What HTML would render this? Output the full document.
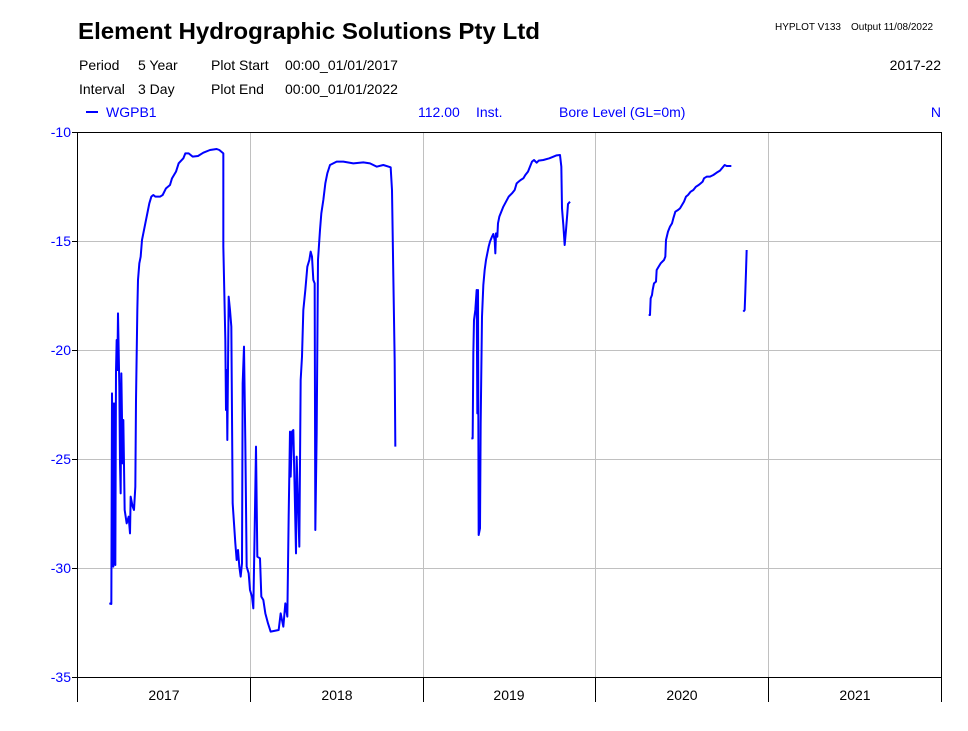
<!DOCTYPE html>
<html><head><meta charset="utf-8"><style>
body{margin:0;background:#fff;width:968px;height:726px;overflow:hidden;font-family:"Liberation Sans",Arial,sans-serif}
</style></head><body>
<svg width="968" height="726" xmlns="http://www.w3.org/2000/svg" font-family="Liberation Sans, Arial, sans-serif">
<text x="78" y="39" font-size="23.5" font-weight="bold" textLength="462" lengthAdjust="spacingAndGlyphs">Element Hydrographic Solutions Pty Ltd</text>
<text x="775" y="30" font-size="10">HYPLOT V133</text><text x="851" y="30" font-size="10">Output 11/08/2022</text>
<g font-size="14">
<text x="79" y="70">Period</text><text x="138" y="70">5 Year</text>
<text x="211" y="70">Plot Start</text><text x="285" y="70">00:00_01/01/2017</text>
<text x="941" y="70" text-anchor="end">2017-22</text>
<text x="79" y="94">Interval</text><text x="138" y="94">3 Day</text>
<text x="211" y="94">Plot End</text><text x="285" y="94">00:00_01/01/2022</text>
</g>
<g font-size="14" fill="#0000ff">
<line x1="86" y1="112" x2="98" y2="112" stroke="#0000ff" stroke-width="2"/>
<text x="106" y="117">WGPB1</text>
<text x="418" y="117">112.00</text><text x="476" y="117">Inst.</text>
<text x="559" y="117">Bore Level (GL=0m)</text>
<text x="941" y="117" text-anchor="end">N</text>
</g>
<g stroke="#c0c0c0" stroke-width="1">
<line x1="78" y1="241.5" x2="941" y2="241.5"/><line x1="78" y1="350.5" x2="941" y2="350.5"/>
<line x1="78" y1="459.5" x2="941" y2="459.5"/><line x1="78" y1="568.5" x2="941" y2="568.5"/>
<line x1="250.5" y1="132" x2="250.5" y2="677"/><line x1="423.5" y1="132" x2="423.5" y2="677"/>
<line x1="595.5" y1="132" x2="595.5" y2="677"/><line x1="768.5" y1="132" x2="768.5" y2="677"/>
</g>
<g stroke="#000" stroke-width="1" fill="none">
<line x1="77.5" y1="132" x2="77.5" y2="702"/><line x1="77" y1="132.5" x2="941" y2="132.5"/>
<line x1="941.5" y1="132" x2="941.5" y2="702"/><line x1="77" y1="677.5" x2="941" y2="677.5"/>
<line x1="250.5" y1="677" x2="250.5" y2="702"/><line x1="423.5" y1="677" x2="423.5" y2="702"/>
<line x1="595.5" y1="677" x2="595.5" y2="702"/><line x1="768.5" y1="677" x2="768.5" y2="702"/>
<line x1="72" y1="132.5" x2="78" y2="132.5"/><line x1="72" y1="241.5" x2="78" y2="241.5"/>
<line x1="72" y1="350.5" x2="78" y2="350.5"/><line x1="72" y1="459.5" x2="78" y2="459.5"/>
<line x1="72" y1="568.5" x2="78" y2="568.5"/><line x1="72" y1="677.5" x2="78" y2="677.5"/>
</g>
<g font-size="14" fill="#0000ff" text-anchor="end">
<text x="71" y="137">-10</text><text x="71" y="246">-15</text><text x="71" y="355">-20</text>
<text x="71" y="464">-25</text><text x="71" y="573">-30</text><text x="71" y="682">-35</text>
</g>
<g font-size="14" text-anchor="middle">
<text x="164" y="700">2017</text><text x="337" y="700">2018</text><text x="509" y="700">2019</text>
<text x="682" y="700">2020</text><text x="855" y="700">2021</text>
</g>
<g transform="translate(70,130) scale(0.33333)" fill="none" stroke="#0000ff" stroke-width="6" stroke-linejoin="round">
<polyline points="118,1420 124,1422 126,790 130,1310 132,820 136,1305 138,725 140,630 142,720 144,550 148,770 150,1000 152,1090 154,730 158,1000 160,870 164,1140 170,1180 176,1160 180,1210 182,1100 188,1130 192,1140 196,1070 198,810 202,540 204,450 208,400 212,380 216,330 220,310 226,280 230,260 234,240 238,220 244,200 250,195 256,200 270,200 278,195 288,175 300,165 306,145 318,125 326,100 340,85 346,70 356,70 368,80 384,78 400,68 420,60 440,57 448,60 460,70 460,350 466,630 468,840 470,720 472,930 476,500 480,540 484,590 488,1120 492,1180 496,1240 500,1290 504,1260 508,1310 512,1340 516,1300 518,760 522,650 526,940 530,1310 536,1330 540,1380 546,1400 550,1435 554,1200 558,950 562,1280 570,1285 574,1400 580,1410 586,1450 594,1480 602,1505 626,1500 632,1450 640,1490 646,1420 652,1460 656,1160 660,905 662,1040 666,905 670,900 674,1080 678,1270 680,980 684,1120 688,1250 692,750 696,680 700,540 706,480 712,410 718,390 722,365 726,380 730,450 734,460 736,1200 740,910 744,390 750,300 754,250 760,210 766,160 772,130 780,105 800,95 820,95 850,100 880,97 900,100 920,110 940,105 962,112 966,180 970,440 974,690 976,950"/>
</g>
<g transform="translate(380,130) scale(0.33333)" fill="none" stroke="#0000ff" stroke-width="6" stroke-linejoin="round">
<polyline points="274,925 278,925 280,670 282,570 286,540 288,510 290,480 292,850 294,480 296,1215 300,1195 302,880 306,560 310,465 314,420 318,390 322,370 326,350 330,335 336,320 340,312 344,330 346,370 348,310 352,320 354,280 358,260 364,245 370,230 378,215 386,200 396,190 404,180 410,160 416,155 422,150 430,145 436,135 444,125 450,110 456,95 462,90 470,98 476,92 490,90 508,85 520,80 530,76 540,75 544,110 546,235 550,285 554,345 558,300 562,250 564,222 570,215"/>
<polyline points="806,555 810,555 812,505 816,495 818,480 822,460 828,455 830,420 836,410 842,400 852,390 856,380 858,330 864,305 870,290 876,280 880,265 886,245 894,240 900,235 906,225 912,215 918,200 924,195 932,185 940,180 948,170 956,165 962,160 968,155 972,145 980,140 990,140 1000,135 1010,128 1020,122 1034,105 1040,108 1054,108"/>
<polyline points="1090,545 1094,540 1096,485 1098,425 1100,360"/>
</g>
</svg>
</body></html>
